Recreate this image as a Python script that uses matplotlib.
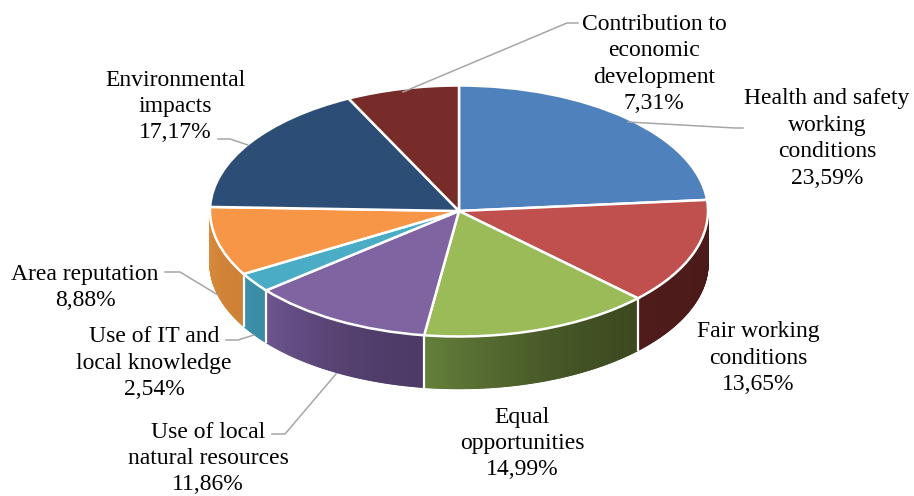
import numpy as np
import matplotlib
matplotlib.use("Agg")
import matplotlib.pyplot as plt
from matplotlib.collections import PolyCollection
from matplotlib.colors import to_rgb

categories = ["Health and safety\nworking\nconditions", "Fair working\nconditions", "Equal\nopportunities",
              "Use of local\nnatural resources", "Use of IT and\nlocal knowledge", "Area reputation",
              "Environmental\nimpacts", "Contribution to\neconomic\ndevelopment"]
values = [23.59, 13.65, 14.99, 11.86, 2.54, 8.88, 17.17, 7.31]
value_labels = ["23,59%", "13,65%", "14,99%", "11,86%", "2,54%", "8,88%", "17,17%", "7,31%"]
top_colors = ["#4f81bd", "#c0504d", "#9bbb59", "#8064a2", "#4bacc6", "#f79646", "#2c4d75", "#772c2a"]
wall_left = ["#4f81bd", "#4f1c1b", "#64803b", "#6e5590", "#3f93ad", "#cf8236", "#2c4d75", "#772c2a"]
wall_right = ["#4f81bd", "#4a1a19", "#3d4a20", "#4d3a66", "#3a8aa3", "#d98a3c", "#2c4d75", "#772c2a"]
label_pos = [(827, 138.5), (758, 358), (522, 443.5), (208, 458.5), (154, 363), (85, 287.5), (175, 106.5), (654, 64)]
leaders = [[(628, 122), (735, 128), (743, 128)], None, None,
           [(336, 374), (285, 434), (272, 434)], [(254, 335), (238, 340), (226, 340)],
           [(218, 295), (180, 272), (165, 272)], [(248, 145), (230, 139), (218, 139)],
           [(403, 92), (567, 23), (578, 23)]]

W, H = 914, 496
CX, CY, RX, RY, DEPTH = 459, 211, 249, 125.5, 52

fig = plt.figure(figsize=(W / 100, H / 100), dpi=100)
ax = fig.add_axes([0, 0, 1, 1])
plt.rcParams["font.family"] = "Liberation Serif"


def px(x, y):
    return x / W, 1 - y / H


total = sum(values)
ax.pie(values, colors=top_colors, startangle=90, counterclock=False, radius=1,
       wedgeprops=dict(edgecolor="white", linewidth=1.8, zorder=3))
ax.set_aspect("auto")
ax.set_xlim(-CX / RX, (W - CX) / RX)
ax.set_ylim(-(H - CY) / RY, CY / RY)
ax.set_axis_off()

# side wall of the disc, drawn from the same values as the pie
d = DEPTH / RY
polys, cols = [], []
edges = np.concatenate([[0], np.cumsum(values)]) / total * 360
for i in range(len(values)):
    a0, a1 = max(edges[i], 90), min(edges[i + 1], 270)
    if a1 <= a0:
        continue
    th = np.radians(np.linspace(a0, a1, max(int((a1 - a0) * 3), 2)))
    c0, c1 = np.array(to_rgb(wall_left[i])), np.array(to_rgb(wall_right[i]))
    for k, (t0, t1) in enumerate(zip(th[:-1], th[1:])):
        x0, y0, x1, y1 = np.sin(t0), np.cos(t0), np.sin(t1), np.cos(t1)
        polys.append([(x0, y0), (x1, y1), (x1, y1 - d), (x0, y0 - d)])
        f = (k / (len(th) - 1)) ** 1.6
        cols.append(c1 + (c0 - c1) * f if i != 5 else c0 + (c1 - c0) * f)
ax.add_collection(PolyCollection(polys, facecolors=cols, edgecolors=cols, linewidths=1.0, zorder=1))
for e in edges:
    if 90 <= e <= 270:
        t = np.radians(e)
        ax.plot([np.sin(t)] * 2, [np.cos(t), np.cos(t) - d], color="white", lw=1.6, zorder=2)

for cat, val, pos, ld in zip(categories, value_labels, label_pos, leaders):
    x, y = px(*pos)
    fig.text(x, y, cat + "\n" + val, ha="center", va="center", fontsize=17,
             family="Liberation Serif", linespacing=1.34, color="black")
    if ld is not None:
        xs, ys = zip(*[px(*p) for p in ld])
        fig.add_artist(plt.Line2D(xs, ys, color="#a6a6a6", lw=1.1, transform=fig.transFigure, zorder=5))

fig.savefig("out.png", dpi=100)
